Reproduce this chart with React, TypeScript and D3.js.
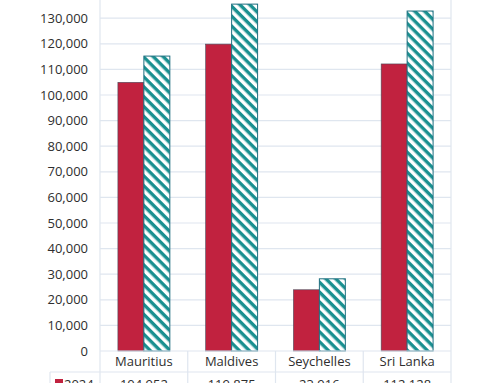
import React from "react";
import * as d3 from "d3";

const categories = ["Mauritius", "Maldives", "Seychelles", "Sri Lanka"];
const seriesNames = ["2024", "2025"];
const values2024 = [104952, 119875, 23916, 112128];
const values2025 = [115200, 135500, 28200, 132800];
const yTicks = [0, 10000, 20000, 30000, 40000, 50000, 60000, 70000, 80000, 90000, 100000, 110000, 120000, 130000];

const W = 500;
const H = 383;
const left = 100;
const right = 451;
const baseY = 351;
const topY = -7.4;

export default function App() {
  const x0 = d3.scaleBand<string>().domain(categories).range([left, right]).padding(0);
  const x1 = d3.scaleBand<string>().domain(seriesNames).range([0, x0.bandwidth()]).paddingInner(0).paddingOuter(0.69);
  const y = d3.scaleLinear().domain([0, 140000]).range([baseY, topY]);
  const fmt = d3.format(",");
  const series = [values2024, values2025];
  const font = "'Open Sans', 'Liberation Sans', sans-serif";
  const grid = "#dfe6ef";
  const txt = "#2e2e2e";
  return (
    <svg width={W} height={H} style={{ position: "absolute", left: 0, top: 0, background: "#fff" }} fontFamily={font}>
      <defs>
        <pattern id="hatch" patternUnits="userSpaceOnUse" width="7" height="7" patternTransform="rotate(45)">
          <rect width="7" height="7" fill="#fff" />
          <rect width="7" height="3.4" fill="#1a9090" />
        </pattern>
      </defs>
      <rect width={W} height={H} fill="#fff" />
      {yTicks.map((t) => (
        <g key={t}>
          {t > 0 && <line x1={left} x2={right} y1={y(t)} y2={y(t)} stroke={grid} strokeWidth={1.2} />}
          <text x={88} y={y(t)} dy="0.35em" textAnchor="end" fontSize={13} fill={txt}>{fmt(t)}</text>
        </g>
      ))}
      <line x1={left} x2={right} y1={y(140000)} y2={y(140000)} stroke={grid} strokeWidth={1.2} />
      {categories.map((c, i) => (
        <g key={c}>
          {series.map((vals, s) => (
            <rect
              key={s}
              x={(x0(c) as number) + (x1(seriesNames[s]) as number)}
              y={y(vals[i])}
              width={x1.bandwidth()}
              height={baseY - y(vals[i])}
              fill={s === 0 ? "#c1223f" : "url(#hatch)"}
              stroke={s === 0 ? "#4a4a5a" : "#1f6f80"}
              strokeWidth={s === 0 ? 0.6 : 1}
            />
          ))}
        </g>
      ))}
      {/* table */}
      <line x1={left} x2={right} y1={baseY} y2={baseY} stroke={grid} strokeWidth={1.2} />
      <line x1={50} x2={right} y1={372} y2={372} stroke={grid} strokeWidth={1.2} />
      <line x1={left} x2={left} y1={0} y2={H} stroke={grid} strokeWidth={1.2} />
      <line x1={right} x2={right} y1={0} y2={H} stroke={grid} strokeWidth={1.2} />
      <line x1={50} x2={50} y1={372} y2={H} stroke={grid} strokeWidth={1.2} />
      {categories.slice(1).map((c) => (
        <line key={c} x1={x0(c)} x2={x0(c)} y1={baseY} y2={H} stroke={grid} strokeWidth={1.2} />
      ))}
      {categories.map((c) => (
        <text key={c} x={(x0(c) as number) + x0.bandwidth() / 2} y={361} dy="0.35em" textAnchor="middle" fontSize={13} fill={txt}>{c}</text>
      ))}
      <rect x={55} y={379} width={8} height={8} fill="#c1223f" />
      <text x={64} y={384} dy="0.35em" fontSize={13} fill={txt}>{seriesNames[0]}</text>
      {categories.map((c, i) => (
        <text key={c} x={(x0(c) as number) + x0.bandwidth() / 2} y={384} dy="0.35em" textAnchor="middle" fontSize={13} fill={txt}>{fmt(values2024[i])}</text>
      ))}
    </svg>
  );
}
